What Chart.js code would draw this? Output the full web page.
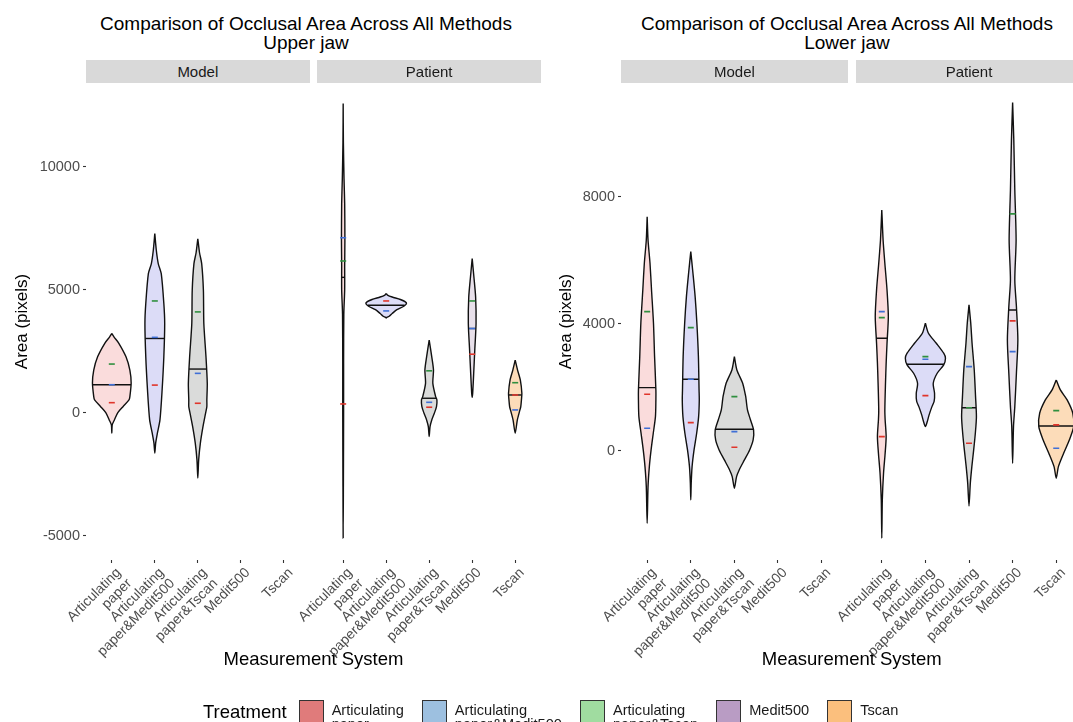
<!DOCTYPE html>
<html>
<head>
<meta charset="utf-8">
<script src="https://cdn.jsdelivr.net/npm/chart.js@4.4.0/dist/chart.umd.min.js"></script>
<style>
  html, body { margin: 0; padding: 0; width: 1073px; height: 722px; overflow: hidden; background: #fff; }
  body { position: relative; font-family: "Liberation Sans", Arial, sans-serif; }
  .box { position: absolute; top: 0; }
  .title { position: absolute; top: 14px; width: 520px; text-align: center; font-size: 19px; line-height: 19px; color: #000; }
  .strip { position: absolute; top: 60px; height: 23px; background: #d9d9d9; color: #1a1a1a; font-size: 15px; line-height: 23px; text-align: center; }
  #legend { position: absolute; left: 203px; top: 700px; display: flex; align-items: flex-start; }
  #legend .ltitle { font-size: 18.5px; line-height: 22px; margin-top: 1px; margin-right: 12px; color: #000; }
  #legend .item { display: flex; align-items: flex-start; margin-right: 18px; }
  #legend .key { width: 23px; height: 28px; border: 1px solid #333; margin-right: 8px; }
  #legend .lab { font-size: 14.6px; line-height: 14px; padding-top: 3px; color: #1a1a1a; }
</style>
</head>
<body>
<div class="title" style="left:46px">Comparison of Occlusal Area Across All Methods<br>Upper jaw</div>
<div class="title" style="left:587px">Comparison of Occlusal Area Across All Methods<br>Lower jaw</div>

<div class="box" style="left:0px;width:548px;height:722px"><canvas id="upper" width="548" height="722"></canvas></div>
<div class="box" style="left:548px;width:540px;height:722px"><canvas id="lower" width="540" height="722"></canvas></div>

<div class="strip" id="upModel">Model</div>
<div class="strip" id="upPatient">Patient</div>
<div class="strip" id="lowModel">Model</div>
<div class="strip" id="lowPatient">Patient</div>

<div id="legend">
  <div class="ltitle">Treatment</div>
  <div class="item"><span class="key" style="background:#e07b7b"></span><span class="lab">Articulating<br>paper</span></div>
  <div class="item"><span class="key" style="background:#9dc0e0"></span><span class="lab">Articulating<br>paper&amp;Medit500</span></div>
  <div class="item"><span class="key" style="background:#a0dca0"></span><span class="lab">Articulating<br>paper&amp;Tscan</span></div>
  <div class="item"><span class="key" style="background:#b99cc4"></span><span class="lab">Medit500</span></div>
  <div class="item"><span class="key" style="background:#fbbf7d"></span><span class="lab">Tscan</span></div>
</div>

<script>
const categories = ['Articulating paper', 'Articulating paper&Medit500', 'Articulating paper&Tscan', 'Medit500', 'Tscan'];
const tickLabels = [['Articulating', 'paper'], ['Articulating', 'paper&Medit500'], ['Articulating', 'paper&Tscan'], ['Medit500'], ['Tscan']];
const facets = ['Model', 'Patient'];

const upperTicks = [-5000, 0, 5000, 10000];
const lowerTicks = [0, 4000, 8000];

// violin outlines: [area, half width as share of one category slot]
const upperModelViolins = [
  [[3220,0],[3080,0.05],[2830,0.16],[2270,0.33],[1730,0.42],[1200,0.45],[650,0.42],[515,0.40],[243,0.26],[0,0.14],[-296,0.06],[-500,0.01],[-830,0]],
  [[7275,0],[6600,0.035],[6060,0.08],[5650,0.15],[4435,0.21],[3625,0.23],[2270,0.21],[920,0.17],[-296,0.12],[-835,0.06],[-1240,0.02],[-1645,0]],
  [[7070,0],[6500,0.04],[6060,0.09],[4975,0.13],[3625,0.14],[2270,0.19],[1190,0.22],[515,0.21],[243,0.21],[-25,0.18],[-567,0.12],[-1230,0.06],[-1918,0.02],[-2660,0]],
  null,
  null
];
const upperPatientViolins = [
  [[12570,0],[11000,0.005],[9500,0.02],[8500,0.035],[7000,0.04],[6000,0.035],[5000,0.035],[4000,0.015],[2000,0.01],[0,0.01],[-3000,0.005],[-5093,0]],
  [[4840,0],[4780,0.03],[4700,0.14],[4600,0.33],[4460,0.47],[4325,0.41],[4190,0.25],[4030,0.14],[3920,0.07],[3880,0.02],[3850,0]],
  [[2950,0],[2270,0.06],[1730,0.1],[1190,0.085],[650,0.15],[515,0.18],[243,0.17],[-25,0.12],[-296,0.06],[-567,0.02],[-973,0]],
  [[6260,0],[5515,0.04],[4700,0.08],[3625,0.09],[2540,0.06],[1600,0.035],[800,0.012],[625,0]],
  [[2135,0],[1730,0.055],[1325,0.12],[785,0.155],[515,0.145],[243,0.13],[110,0.11],[-296,0.05],[-835,0]]
];
const lowerModelViolins = [
  [[7370,0],[6637,0.02],[5903,0.065],[5062,0.1],[4013,0.145],[2961,0.17],[1912,0.2],[1597,0.2],[1071,0.19],[548,0.14],[22,0.09],[-504,0.05],[-1134,0.02],[-2287,0]],
  [[6270,0],[5588,0.05],[4851,0.1],[4013,0.14],[2961,0.175],[1912,0.19],[1597,0.195],[1071,0.18],[548,0.135],[22,0.075],[-504,0.03],[-1027,0.01],[-1553,0]],
  [[2961,0],[2542,0.057],[2123,0.19],[1701,0.26],[1597,0.27],[1282,0.3],[967,0.37],[652,0.44],[337,0.43],[22,0.35],[-293,0.23],[-608,0.11],[-819,0.05],[-1184,0]],
  null,
  null
];
const lowerPatientViolins = [
  [[7582,0],[6637,0.03],[5903,0.07],[5062,0.12],[4221,0.15],[3383,0.12],[2753,0.1],[2123,0.085],[1282,0.07],[967,0.077],[441,0.1],[-82,0.077],[-712,0.04],[-1553,0.012],[-2759,0]],
  [[4013,0],[3698,0.07],[3383,0.25],[3068,0.42],[2911,0.46],[2700,0.42],[2438,0.27],[2123,0.18],[1800,0.21],[1550,0.2],[1386,0.15],[1125,0.085],[900,0.04],[756,0]],
  [[4590,0],[4013,0.04],[3383,0.07],[2542,0.12],[1701,0.15],[1071,0.17],[548,0.145],[22,0.107],[-504,0.065],[-1027,0.03],[-1742,0]],
  [[10962,0],[9787,0.027],[8212,0.05],[6637,0.08],[5377,0.05],[4536,0.087],[3487,0.12],[2438,0.087],[1386,0.05],[756,0.02],[-397,0]],
  [[2227,0],[1912,0.095],[1597,0.25],[1178,0.38],[756,0.4],[337,0.3],[-82,0.17],[-504,0.05],[-869,0]]
];

// median line of every violin
const upperModelMedians = [1135, 3015, 1772, null, null];
const upperPatientMedians = [5500, 4365, 585, 3420, 718];
const lowerModelMedians = [1985, 2249, 674, null, null];
const lowerPatientMedians = [3541, 2722, 1350, 4432, 778];

// small coloured marks per treatment
const upperModelRed = [405, 1120, 381, null, null];
const upperModelBlue = [1135, 3060, 1597, null, null];
const upperModelGreen = [1975, 4540, 4095, null, null];
const upperPatientRed = [353, 4540, 220, 2375, 718];
const upperPatientBlue = [7110, 4135, 420, 3420, 110];
const upperPatientGreen = [6165, null, 1700, 4540, 1217];
const lowerModelRed = [1777, 882, 107, null, null];
const lowerModelBlue = [705, 2249, 598, null, null];
const lowerModelGreen = [4379, 3875, 1701, null, null];
const lowerPatientRed = [441, 1733, 233, 4086, 810];
const lowerPatientBlue = [4379, 2879, 2646, 3119, 76];
const lowerPatientGreen = [4190, 2961, 1350, 7456, 1260];

const violinFills = ['#fadcdc', '#dcdcf7', '#dadbda', '#e8e0ea', '#fcdcb9'];
const markColors = ['#e0352b', '#3f6fd6', '#2f8f3f'];
const PATIENT_SHIFT = 5.38;   // slot where the Patient panel starts
const LABEL_SHIFT = 0.16;

function widthAt(prof, v) {
  for (let k = 0; k < prof.length - 1; k++) {
    const a = prof[k], b = prof[k + 1];
    if (v <= a[0] && v >= b[0]) {
      const t = (a[0] - v) / (a[0] - b[0] || 1);
      return a[1] + t * (b[1] - a[1]);
    }
  }
  return 0;
}

function panelDatasets(violins, medians, reds, blues, greens, offset) {
  const ds = [];
  violins.forEach((prof, i) => {
    if (!prof) return;
    const c = offset + i + 1;
    const right = prof.map(p => ({x: c + p[1], y: p[0]}));
    const left = prof.slice(0, -1).reverse().map(p => ({x: c - p[1], y: p[0]}));
    ds.push({
      data: right.concat(left), showLine: true, fill: 'shape',
      backgroundColor: violinFills[i], borderColor: '#111', borderWidth: 1.4,
      pointRadius: 0, tension: 0.25, order: 3
    });
    if (medians[i] != null) {
      const w = widthAt(prof, medians[i]);
      ds.push({
        data: [{x: c - w, y: medians[i]}, {x: c + w, y: medians[i]}], showLine: true, fill: false,
        borderColor: '#111', borderWidth: 1.4, pointRadius: 0, order: 2
      });
    }
  });
  [reds, blues, greens].forEach((vals, k) => {
    const pts = [];
    vals.forEach((v, i) => { if (v != null) pts.push({x: offset + i + 1, y: v}); });
    ds.push({
      data: pts, showLine: false, pointStyle: 'line', pointRadius: 3,
      pointBorderColor: markColors[k], pointBorderWidth: 1.6, order: 1
    });
  });
  return ds;
}

function makeJaw(id, datasets, yMin, yMax, yTicks, padLeft, yWidth, padRight) {
  const tickPos = [];
  [0, PATIENT_SHIFT].forEach(off => categories.forEach((c, i) => tickPos.push(off + i + 1)));
  const xMax = PATIENT_SHIFT + 5.6;
  return new Chart(document.getElementById(id), {
    type: 'scatter',
    data: {datasets: datasets},
    options: {
      responsive: false,
      animation: false,
      events: [],
      layout: {padding: {top: 83, left: padLeft, right: padRight, bottom: 51}},
      plugins: {legend: {display: false}, tooltip: {enabled: false}},
      scales: {
        x: {
          type: 'linear', position: 'bottom', weight: 0, min: 0.4, max: xMax,
          afterBuildTicks: s => { s.ticks = tickPos.map(v => ({value: v})); },
          afterFit: s => { s.height = 3; },
          grid: {drawOnChartArea: false, drawTicks: true, tickLength: 3, tickColor: '#333', tickWidth: 1.1},
          border: {display: false},
          ticks: {display: false}
        },
        xl: {
          type: 'linear', position: 'bottom', weight: 1, min: 0.4, max: xMax,
          afterBuildTicks: s => { s.ticks = tickPos.map(v => ({value: v + LABEL_SHIFT})); },
          afterFit: s => { s.height = 108; },
          grid: {display: false, drawTicks: false},
          border: {display: false},
          ticks: {
            autoSkip: false, minRotation: 45, maxRotation: 45, padding: 2, color: '#4d4d4d',
            font: {size: 14, lineHeight: 1.1},
            callback: (v, i) => tickLabels[i % 5]
          },
          title: {display: true, text: 'Measurement System', color: '#000', font: {size: 18.5}, padding: 0}
        },
        y: {
          min: yMin, max: yMax,
          afterBuildTicks: s => { s.ticks = yTicks.map(v => ({value: v})); },
          afterFit: s => { s.width = yWidth; },
          grid: {drawOnChartArea: false, drawTicks: true, tickLength: 3, tickColor: '#333', tickWidth: 1.1},
          border: {display: false},
          ticks: {padding: 3, color: '#4d4d4d', font: {size: 14.5}, callback: v => String(v)},
          title: {display: true, text: 'Area (pixels)', color: '#000', font: {size: 17}, padding: 0}
        }
      }
    }
  });
}

function placeStrip(id, chart, canvasLeft, from, to) {
  const s = chart.scales.x;
  const el = document.getElementById(id);
  const a = s.getPixelForValue(from), b = s.getPixelForValue(to);
  el.style.left = (canvasLeft + a) + 'px';
  el.style.width = (b - a) + 'px';
}

Chart.defaults.font.family = '"Liberation Sans", Arial, sans-serif';

const upperData = panelDatasets(upperModelViolins, upperModelMedians, upperModelRed, upperModelBlue, upperModelGreen, 0)
  .concat(panelDatasets(upperPatientViolins, upperPatientMedians, upperPatientRed, upperPatientBlue, upperPatientGreen, PATIENT_SHIFT));
const lowerData = panelDatasets(lowerModelViolins, lowerModelMedians, lowerModelRed, lowerModelBlue, lowerModelGreen, 0)
  .concat(panelDatasets(lowerPatientViolins, lowerPatientMedians, lowerPatientRed, lowerPatientBlue, lowerPatientGreen, PATIENT_SHIFT));

const upperChart = makeJaw('upper', upperData, -5990, 13400, upperTicks, 12.3, 73.7, 7);
const lowerChart = makeJaw('lower', lowerData, -3445, 11580, lowerTicks, 8.3, 64.7, 3.6);

placeStrip('upModel', upperChart, 0, 0.4, 5.6);
placeStrip('upPatient', upperChart, 0, PATIENT_SHIFT + 0.4, PATIENT_SHIFT + 5.6);
placeStrip('lowModel', lowerChart, 548, 0.4, 5.6);
placeStrip('lowPatient', lowerChart, 548, PATIENT_SHIFT + 0.4, PATIENT_SHIFT + 5.6);
</script>
</body>
</html>
